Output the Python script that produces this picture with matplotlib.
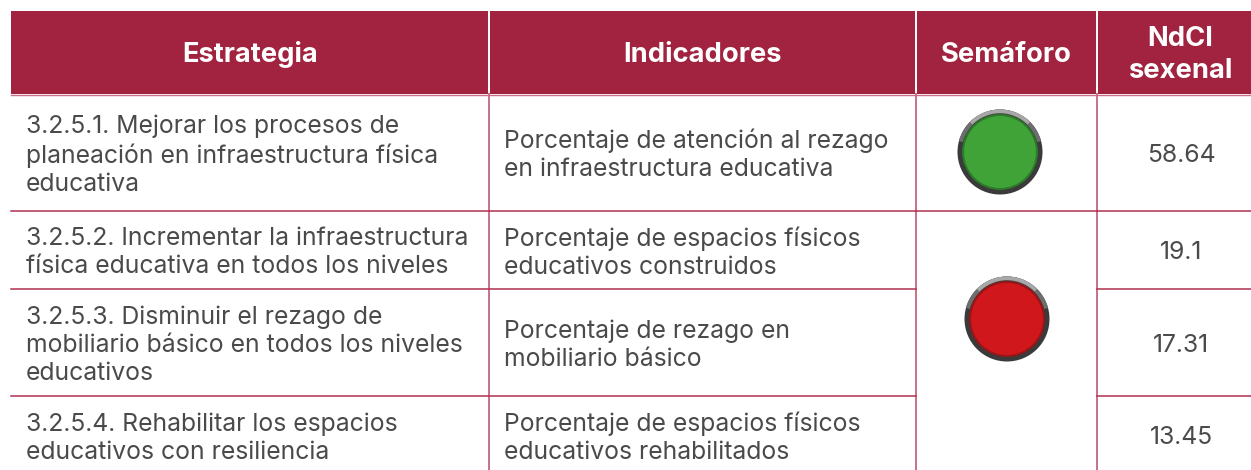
import matplotlib
matplotlib.use("Agg")
import matplotlib.pyplot as plt
from matplotlib.patches import Circle, Rectangle, Wedge

W, H = 1251, 470
MAROON = "#a1233f"
LINE = "#b0304f"
LINE_V = "#c9708a"
TXT = "#4a4a4c"

headers = ["Estrategia", "Indicadores", "Semáforo", "NdCI\nsexenal"]
strategies = [
    "3.2.5.1. Mejorar los procesos de\nplaneación en infraestructura física\neducativa",
    "3.2.5.2. Incrementar la infraestructura\nfísica educativa en todos los niveles",
    "3.2.5.3. Disminuir el rezago de\nmobiliario básico en todos los niveles\neducativos",
    "3.2.5.4. Rehabilitar los espacios\neducativos con resiliencia",
]
indicators = [
    "Porcentaje de atención al rezago\nen infraestructura educativa",
    "Porcentaje de espacios físicos\neducativos construidos",
    "Porcentaje de rezago en\nmobiliario básico",
    "Porcentaje de espacios físicos\neducativos rehabilitados",
]
ndci = ["58.64", "19.1", "17.31", "13.45"]

col_x = [11, 489, 916, 1097, 1251]
row_y = [95, 211, 289, 396, 470]
text_y = [155, 252.5, 345.5, 438]

plt.rcParams["font.family"] = ["Inter", "DejaVu Sans"]
fig = plt.figure(figsize=(W / 100, H / 100), dpi=100, facecolor="white")
ax = fig.add_axes([0, 0, 1, 1])
ax.set_xlim(0, W)
ax.set_ylim(H, 0)
ax.axis("off")

ax.add_patch(Rectangle((col_x[0], 11), col_x[-1] - col_x[0], 83, color=MAROON, lw=0))
for i, h in enumerate(headers):
    ax.text((col_x[i] + col_x[i + 1]) / 2 + (6 if i == 3 else 0), 55, h, color="white", fontsize=19.7,
            fontweight="bold", ha="center", va="center", linespacing=1.3)

# separators
for x in col_x[1:-1]:
    ax.plot([x, x], [11, 94], color="white", lw=1.4)
    ax.plot([x, x], [94, 470], color=LINE_V, lw=1.4)
ax.plot([col_x[0], col_x[-1]], [94.5, 94.5], color=LINE_V, lw=1)
for y in row_y[1:-1]:
    ax.plot([col_x[0], col_x[2]], [y, y], color=LINE, lw=1.1)
    ax.plot([col_x[3], col_x[4]], [y, y], color=LINE, lw=1.1)
ax.plot([col_x[2], col_x[3]], [row_y[1], row_y[1]], color=LINE, lw=1.1)

for i in range(4):
    ax.text(26, text_y[i], strategies[i], color=TXT, fontsize=17.8, ha="left", va="center", linespacing=1.29)
    ax.text(504, text_y[i], indicators[i], color=TXT, fontsize=17.8, ha="left", va="center", linespacing=1.29)
    ax.text((col_x[3] + col_x[4]) / 2 + 7, text_y[i], ndci[i], color=TXT, fontsize=17.8, ha="center", va="center")


def light(x, y, col, edge):
    ax.add_patch(Circle((x, y), 42.5, color="#3a3a3a", lw=0))
    # highlight on the upper part of the rim (y axis is inverted)
    ax.add_patch(Wedge((x, y), 42.5, 195, 345, width=4, color="#6e6e6e", lw=0))
    ax.add_patch(Wedge((x, y), 42.5, 225, 315, width=3.5, color="#a8a8a8", lw=0))
    ax.add_patch(Circle((x, y), 38, color=edge, lw=0))
    ax.add_patch(Circle((x, y), 36, color=col, lw=0))


light(1000, 152, "#3fa338", "#2c7a29")
light(1007, 319, "#cf171c", "#9a1518")

fig.savefig("out.png", dpi=100)
